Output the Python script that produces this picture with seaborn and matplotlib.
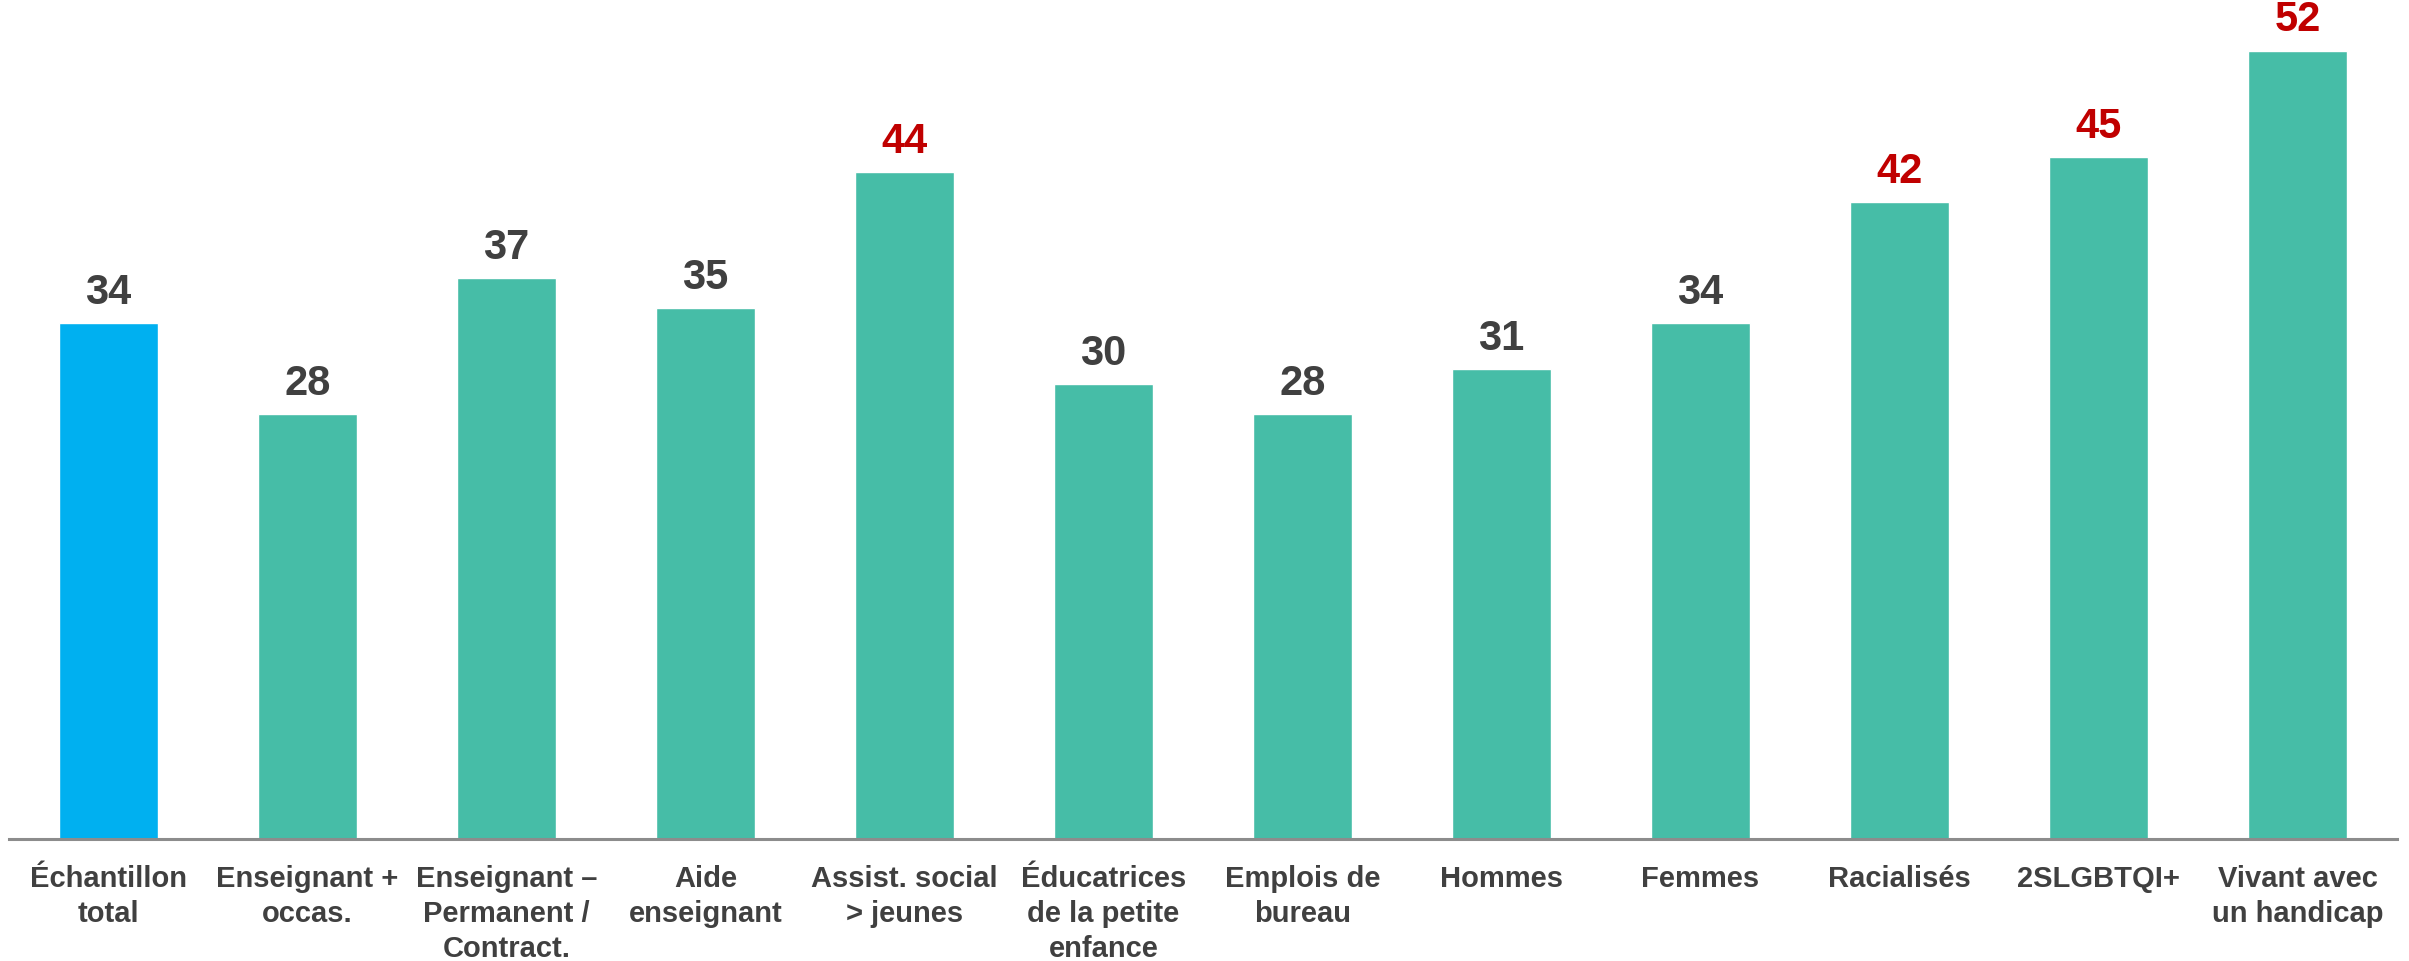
import matplotlib
matplotlib.use("Agg")
import matplotlib.pyplot as plt
import seaborn as sns
import pandas as pd

categories = ["Échantillon\ntotal", "Enseignant +\noccas.", "Enseignant –\nPermanent /\nContract.",
              "Aide\nenseignant", "Assist. social\n> jeunes", "Éducatrices\nde la petite\nenfance",
              "Emplois de\nbureau", "Hommes", "Femmes", "Racialisés", "2SLGBTQI+",
              "Vivant avec\nun handicap"]
values = [34, 28, 37, 35, 44, 30, 28, 31, 34, 42, 45, 52]
highlight = [False, False, False, False, True, False, False, False, False, True, True, True]

BLUE = "#00B0F0"
TEAL = "#46BDA7"
RED = "#C00000"
DARK = "#404040"

sns.set_theme(style="white")
plt.rcParams['font.family'] = ['Liberation Sans Narrow', 'Liberation Sans', 'DejaVu Sans']

df = pd.DataFrame({"cat": categories, "val": values})
palette = {c: (BLUE if i == 0 else TEAL) for i, c in enumerate(categories)}

fig = plt.figure(figsize=(24.09, 9.62), dpi=100)
ax = fig.add_axes([9 / 2409, 122 / 962, (2397 - 9) / 2409, 840 / 962])
sns.barplot(data=df, x="cat", y="val", hue="cat", palette=palette, legend=False,
            width=0.5, ax=ax, saturation=1)

ax.set_xlim(-0.5, len(categories) - 0.5)
ax.set_ylim(0, 55.4)
ax.set_xlabel("")
ax.set_ylabel("")
ax.set_yticks([])
for s in ["top", "right", "left"]:
    ax.spines[s].set_visible(False)
ax.spines["bottom"].set_color("#8C8C8C")
ax.spines["bottom"].set_linewidth(2.2)
ax.tick_params(axis="x", length=0, pad=18)
for lab in ax.get_xticklabels():
    lab.set_fontsize(21)
    lab.set_fontweight("bold")
    lab.set_color(DARK)
    lab.set_multialignment("center")
    lab.set_linespacing(1.32)

for i, (v, h) in enumerate(zip(values, highlight)):
    ax.annotate(f"{v}", xy=(i, v), xytext=(0, 8), textcoords="offset points",
                ha="center", va="bottom", fontsize=30, fontweight="bold",
                color=RED if h else DARK, annotation_clip=False)

fig.savefig("out.png", dpi=100)
